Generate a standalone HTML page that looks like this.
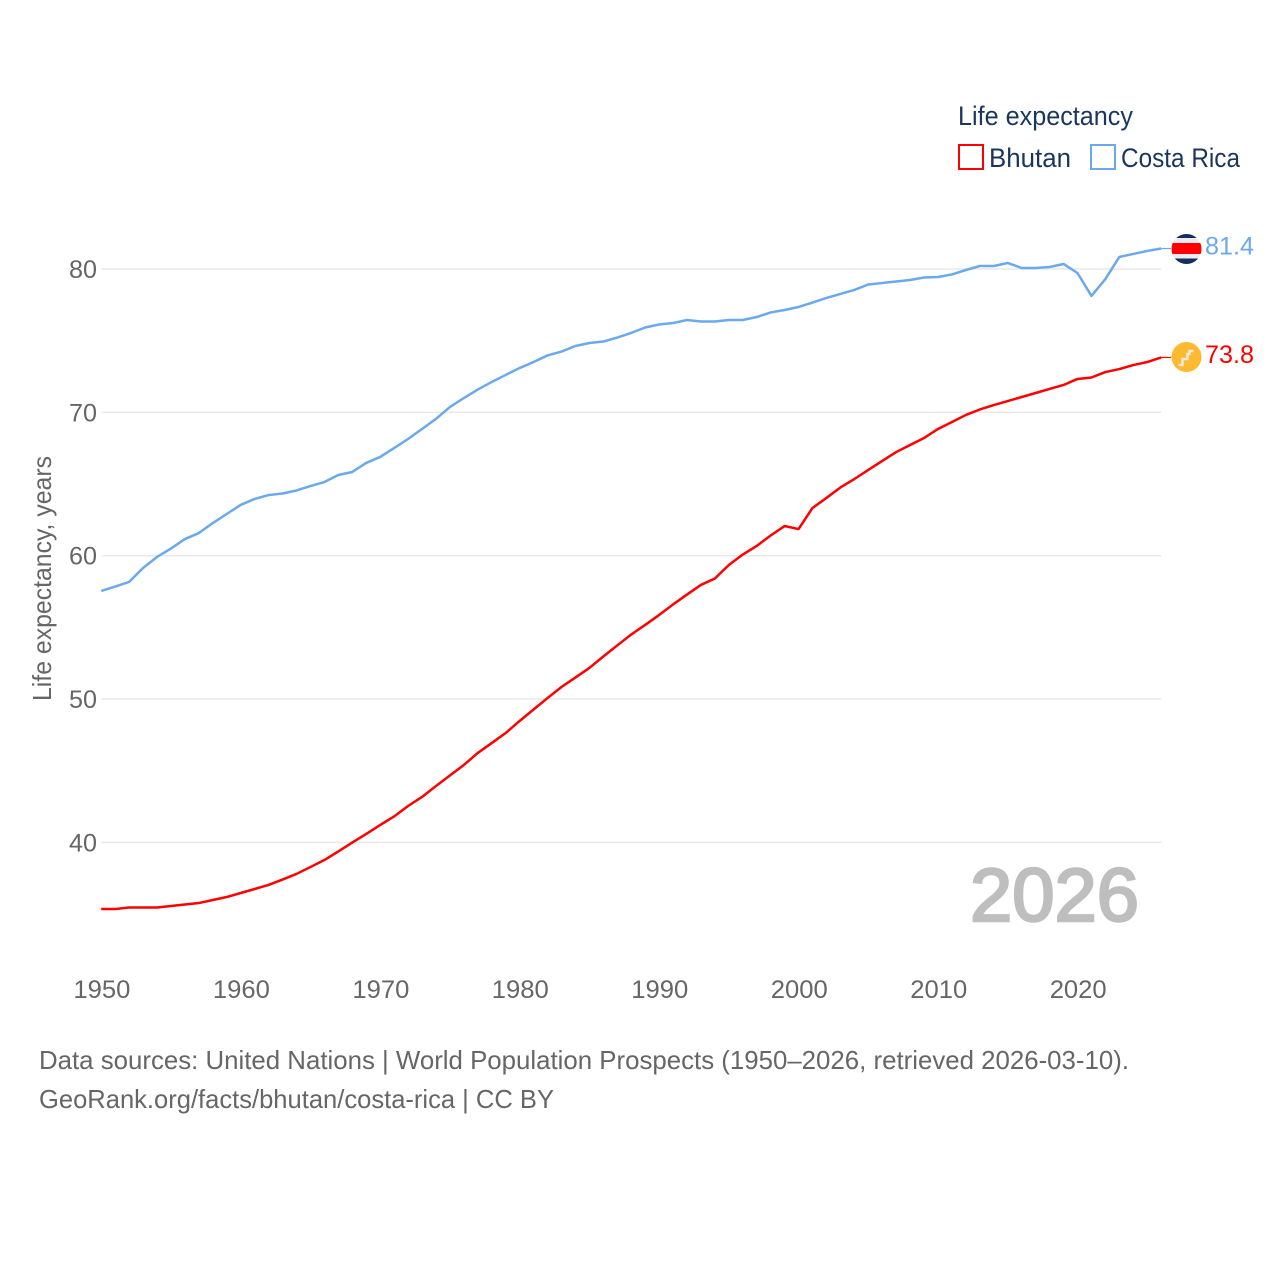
<!DOCTYPE html>
<html lang="en">
<head>
<meta charset="utf-8">
<title>Life expectancy: Bhutan and Costa Rica</title>
<style>
html,body{margin:0;padding:0;background:#fff;width:1280px;height:1280px;overflow:hidden}
svg{display:block}
text{font-family:"Liberation Sans",sans-serif}
</style>
</head>
<body>
<svg id="chart" xmlns="http://www.w3.org/2000/svg" width="1280" height="1280" viewBox="0 0 1280 1280">
  <rect x="0" y="0" width="1280" height="1280" fill="#ffffff"/>
  <g id="grid"></g>
  <g id="yticks"></g>
  <g id="xticks"></g>
  <text transform="translate(51,701) rotate(-90)" font-size="26" fill="#666666" textLength="245" lengthAdjust="spacingAndGlyphs">Life expectancy, years</text>
  <text x="970" y="921" font-size="75" font-weight="400" fill="#bebebe" stroke="#bebebe" stroke-width="2.500" textLength="169" lengthAdjust="spacingAndGlyphs">2026</text>
  <g id="series"></g>

  <defs>
    <clipPath id="cr-clip"><circle cx="1186.500" cy="249" r="15"/></clipPath>
    <clipPath id="bt-clip"><circle cx="1186.500" cy="357" r="15"/></clipPath>
  </defs>
  <g id="flag-costa-rica" clip-path="url(#cr-clip)">
    <rect x="1171" y="233" width="31" height="32" fill="#ecebf0"/>
    <rect x="1171" y="233" width="31" height="5" fill="#132f5e"/>
    <rect x="1171" y="258.500" width="31" height="6" fill="#132f5e"/>
    <rect x="1171" y="243" width="31" height="11" fill="#ff0000"/>
  </g>
  <g id="flag-bhutan" clip-path="url(#bt-clip)">
    <rect x="1171" y="342" width="31" height="30" fill="#fdb92f"/>
    <path d="M1178.500 365 h4 v-6 h5 v-5 h2 v-3 h4" fill="none" stroke="#f1e9dc" stroke-width="2.500"/>
  </g>
  <text id="value-costa-rica" x="1205" y="254.500" font-size="25" fill="#6aa9ed" textLength="49" lengthAdjust="spacingAndGlyphs"></text>
  <text id="value-bhutan" x="1205" y="363" font-size="25" fill="#ff0000" textLength="49" lengthAdjust="spacingAndGlyphs"></text>

  <g>
    <text x="958" y="125" font-size="27" fill="#1a365d" textLength="175" lengthAdjust="spacingAndGlyphs">Life expectancy</text>
    <g>
      <rect x="959" y="145" width="24" height="24" fill="#ffffff" stroke="#ff0000" stroke-width="2"/>
      <text x="989" y="167" font-size="27" fill="#1a365d" textLength="82" lengthAdjust="spacingAndGlyphs">Bhutan</text>
    </g>
    <g>
      <rect x="1091" y="145" width="24" height="24" fill="#ffffff" stroke="#6aa9ed" stroke-width="2"/>
      <text x="1121" y="167" font-size="27" fill="#1a365d" textLength="119" lengthAdjust="spacingAndGlyphs">Costa Rica</text>
    </g>
  </g>

  <g>
    <text x="39" y="1069" font-size="26" fill="#666666" textLength="1090" lengthAdjust="spacingAndGlyphs">Data sources: United Nations | World Population Prospects (1950–2026, retrieved 2026-03-10).</text>
    <text x="39" y="1108" font-size="26" fill="#666666" textLength="515" lengthAdjust="spacingAndGlyphs">GeoRank.org/facts/bhutan/costa-rica | CC BY</text>
  </g>
</svg>
<script>
const startYear = 1950;
const bhutanValues = [
  35.35,35.35,35.46,35.46,35.46,35.56,35.67,35.77,35.98,36.19,
  36.47,36.75,37.03,37.41,37.80,38.28,38.77,39.37,39.99,40.59,
  41.21,41.81,42.54,43.17,43.93,44.67,45.40,46.24,46.93,47.63,
  48.47,49.27,50.07,50.84,51.50,52.17,52.97,53.74,54.50,55.17,
  55.86,56.60,57.29,57.96,58.41,59.35,60.08,60.68,61.41,62.07,
  61.86,63.33,64.03,64.76,65.35,65.98,66.61,67.23,67.72,68.21,
  68.84,69.33,69.82,70.20,70.51,70.79,71.07,71.35,71.63,71.91,
  72.33,72.43,72.81,73.02,73.30,73.51,73.83
];
const costaRicaValues = [
  57.54,57.85,58.17,59.14,59.91,60.50,61.16,61.58,62.28,62.91,
  63.54,63.96,64.23,64.34,64.55,64.86,65.14,65.63,65.84,66.47,
  66.89,67.51,68.14,68.84,69.54,70.37,71.00,71.59,72.12,72.61,
  73.09,73.51,73.97,74.24,74.63,74.84,74.94,75.22,75.54,75.92,
  76.13,76.23,76.44,76.34,76.34,76.44,76.44,76.65,76.97,77.14,
  77.35,77.66,77.98,78.26,78.54,78.92,79.02,79.13,79.23,79.41,
  79.44,79.62,79.93,80.21,80.21,80.42,80.07,80.07,80.14,80.35,
  79.72,78.12,79.30,80.84,81.05,81.26,81.43
];
const yTickValues = [40, 50, 60, 70, 80];
const xTickYears = [1950, 1960, 1970, 1980, 1990, 2000, 2010, 2020];

const NS = 'http://www.w3.org/2000/svg';
function xScale(year) { return 101.2 + (year - 1950) * 13.947; }
function yScale(value) { return 269 + (80 - value) * 14.335; }
function make(tag, attrs, parent) {
  const el = document.createElementNS(NS, tag);
  for (const k in attrs) el.setAttribute(k, attrs[k]);
  parent.appendChild(el);
  return el;
}

const gridGroup = document.getElementById('grid');
const yGroup = document.getElementById('yticks');
const xGroup = document.getElementById('xticks');
const seriesGroup = document.getElementById('series');
const plotRight = xScale(startYear + 76);

yTickValues.forEach(function (v) {
  const line = make('line', {x1: 101.5, x2: plotRight, y1: yScale(v), y2: yScale(v), stroke: '#e9e9e9', 'stroke-width': 1.5}, gridGroup);
  
  
  const label = make('text', {x: 69, y: yScale(v) + 9, 'font-size': 25, fill: '#666666', textLength: 28, lengthAdjust: 'spacingAndGlyphs'}, yGroup);
  
  
  label.textContent = String(v);
});

xTickYears.forEach(function (yr) {
  const label = make('text', {x: xScale(yr) - 27.8, y: 998, 'font-size': 25, fill: '#666666', textLength: 57, lengthAdjust: 'spacingAndGlyphs'}, xGroup);
  
  
  label.textContent = String(yr);
});

function drawSeries(values, color, seriesName, valueId) {
  const pts = values.map(function (v, i) { return xScale(startYear + i).toFixed(2) + ',' + yScale(v).toFixed(2); });
  const line = make('polyline', {points: pts.join(' '), fill: 'none', stroke: color, 'stroke-width': 2.5, 'stroke-linejoin': 'round'}, seriesGroup);
  
  
  const last = values[values.length - 1];
  const stub = make('line', {x1: plotRight, x2: 1171, y1: yScale(last), y2: yScale(last), stroke: color, 'stroke-width': 1.2}, seriesGroup);
  
  
  document.getElementById(valueId).textContent = last.toFixed(1);
}
drawSeries(bhutanValues, '#ff0000', 'bhutan', 'value-bhutan');
drawSeries(costaRicaValues, '#6aa9ed', 'costa-rica', 'value-costa-rica');
</script>
</body>
</html>
